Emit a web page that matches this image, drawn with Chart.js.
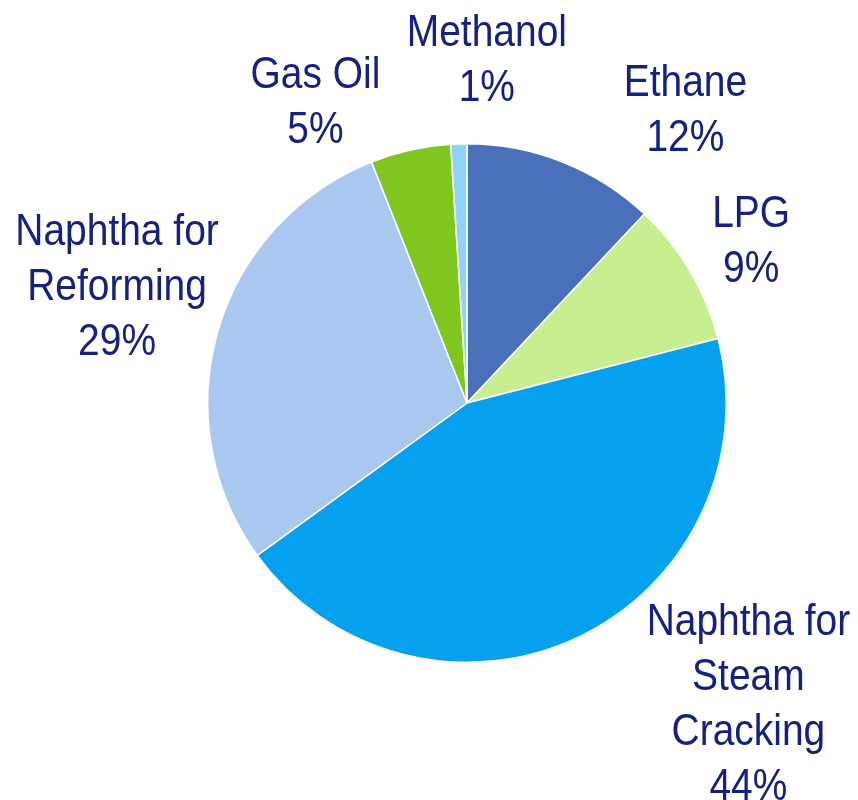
<!DOCTYPE html>
<html>
<head>
<meta charset="utf-8">
<script src="https://cdn.jsdelivr.net/npm/chart.js@4/dist/chart.umd.min.js"></script>
<style>
  html, body { margin: 0; padding: 0; background: #ffffff; }
  #wrap { width: 858px; height: 800px; }
</style>
</head>
<body>
<div id="wrap"><canvas id="pie" width="858" height="800"></canvas></div>
<script>
// ── Data ─────────────────────────────────
const labels = [
  ["Ethane"],
  ["LPG"],
  ["Naphtha for", "Steam", "Cracking"],
  ["Naphtha for", "Reforming"],
  ["Gas Oil"],
  ["Methanol"],
];
const shares = [12, 9, 44, 29, 5, 1];
const colors = ["#4a70b9", "#c8ef8f", "#05a1ef", "#a8c8ef", "#7fc71f", "#8ed3fa"];

// label offsets from the slice's outer edge (first baseline, px)
const labelOffsets = [[123, -66], [61, -44], [171, -3], [-101, -86], [-95, -62], [28, -98]];

// no narrow font installed: squeeze Liberation Sans horizontally
const LABEL_FONT  = '44px "Liberation Sans", Arial, sans-serif';
const LABEL_COLOR = "#14217f";
const LABEL_SQUEEZE = 0.885;
const LINE_H      = 55;

// ── Outside labels plugin ────────────────
const outsideLabels = {
  id: "outsideLabels",
  afterDatasetsDraw(chart) {
    const ctx  = chart.ctx;
    const meta = chart.getDatasetMeta(0);
    ctx.save();
    ctx.font = LABEL_FONT;
    ctx.fillStyle = LABEL_COLOR;
    ctx.textAlign = "center";
    ctx.textBaseline = "alphabetic";
    meta.data.forEach((arc, i) => {
      const p   = arc.getProps(["x", "y", "startAngle", "endAngle", "outerRadius"], true);
      const mid = (p.startAngle + p.endAngle) / 2;
      const ex  = p.x + Math.cos(mid) * p.outerRadius;
      const ey  = p.y + Math.sin(mid) * p.outerRadius;
      const x   = ex + labelOffsets[i][0];
      let y     = ey + labelOffsets[i][1];
      const lines = labels[i].concat([chart.data.datasets[0].data[i] + "%"]);
      lines.forEach(line => {
        ctx.save();
        ctx.translate(x, y);
        ctx.scale(LABEL_SQUEEZE, 1);
        ctx.fillText(line, 0, 0);
        ctx.restore();
        y += LINE_H;
      });
    });
    ctx.restore();
  }
};

// ── Chart ────────────────────────────────
new Chart(document.getElementById("pie"), {
  type: "pie",
  data: {
    labels: labels.map(l => l.join(" ")),
    datasets: [{
      data: shares,
      backgroundColor: colors,
      borderColor: "#ffffff",
      borderWidth: 1.5,
    }]
  },
  options: {
    responsive: false,
    animation: false,
    layout: { padding: { left: 207, right: 131, top: 143, bottom: 137 } },
    plugins: { legend: { display: false }, tooltip: { enabled: false } }
  },
  plugins: [outsideLabels]
});
</script>
</body>
</html>
